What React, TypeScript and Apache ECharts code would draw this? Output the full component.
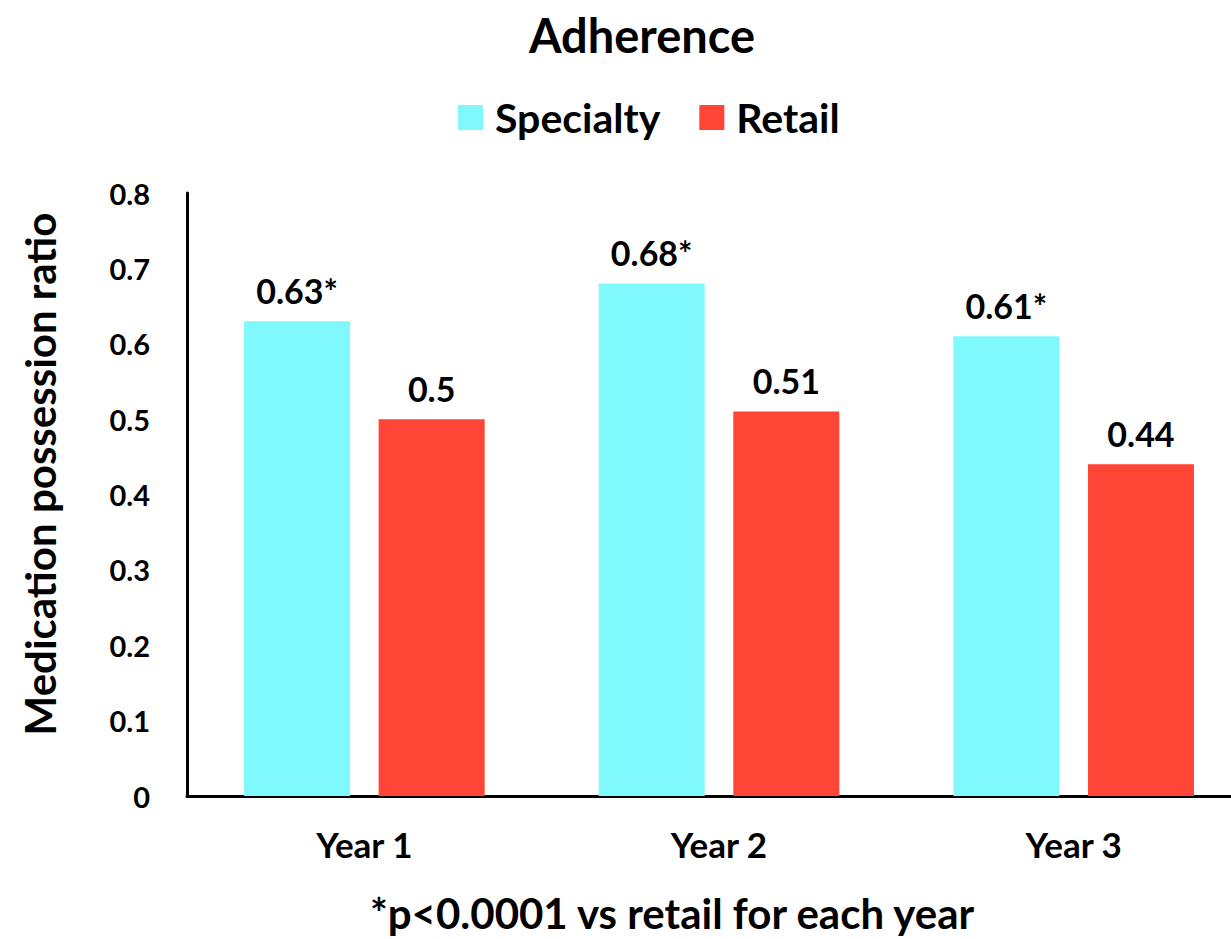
import React, { useEffect, useRef } from "react";
import * as echarts from "echarts";

// Medication possession ratio by year and pharmacy channel
const years = ["Year 1", "Year 2", "Year 3"];
const specialty = [0.63, 0.68, 0.61];
const retail = [0.5, 0.51, 0.44];
const specialtyLabels = ["0.63*", "0.68*", "0.61*"];
const retailLabels = ["0.5", "0.51", "0.44"];

const FONT = "Lato, 'Noto Sans', sans-serif";

export default function App() {
  const ref = useRef<HTMLDivElement>(null);

  useEffect(() => {
    if (!ref.current) return;
    const chart = echarts.init(ref.current, undefined, { renderer: "svg" });

    const barLabel = (labels: string[]) => ({
      show: true,
      position: "top",
      distance: 14,
      fontFamily: FONT,
      fontWeight: "bold",
      fontSize: 34,
      color: "#000",
      formatter: (p: any) => labels[p.dataIndex],
    });

    chart.setOption({
      animation: false,
      backgroundColor: "#ffffff",
      textStyle: { fontFamily: FONT, fontWeight: "bold", color: "#000" },
      legend: {
        left: 458,
        top: 97,
        padding: 0,
        itemWidth: 25,
        itemHeight: 25,
        itemGap: 39,
        icon: "rect",
        textStyle: {
          fontFamily: FONT,
          fontWeight: "bold",
          fontSize: 41,
          color: "#000",
          padding: [0, 0, 0, 7],
        },
        data: ["Specialty", "Retail"],
      },
      grid: {
        left: 187,
        right: 0,
        top: 193,
        bottom: 143,
        containLabel: false,
      },
      xAxis: {
        type: "category",
        data: years,
        axisLine: { lineStyle: { color: "#000", width: 3 } },
        axisTick: { show: false },
        axisLabel: {
          margin: 30,
          fontFamily: FONT,
          fontWeight: "bold",
          fontSize: 35,
          color: "#000",
        },
      },
      yAxis: {
        type: "value",
        min: 0,
        max: 0.8,
        interval: 0.1,
        axisLine: { show: true, lineStyle: { color: "#000", width: 3 } },
        axisTick: { show: false },
        splitLine: { show: false },
        axisLabel: {
          margin: 37,
          fontFamily: FONT,
          fontWeight: "bold",
          fontSize: 29,
          color: "#000",
          formatter: (v: number) => (v === 0 ? "0" : v.toFixed(1)),
        },
      },
      series: [
        {
          name: "Specialty",
          type: "bar",
          data: specialty,
          barWidth: 106,
          barGap: "27%",
          itemStyle: { color: "#7FF9FE" },
          label: barLabel(specialtyLabels),
        },
        {
          name: "Retail",
          type: "bar",
          data: retail,
          barWidth: 106,
          itemStyle: { color: "#FF4535" },
          label: barLabel(retailLabels),
        },
      ],
      graphic: [
        {
          type: "text",
          x: 642,
          y: 35,
          style: {
            text: "Adherence",
            font: `bold 47px ${FONT}`,
            fill: "#000",
            textAlign: "center",
            textVerticalAlign: "middle",
          },
        },
        {
          type: "text",
          x: 40,
          y: 474,
          rotation: Math.PI / 2,
          style: {
            text: "Medication possession ratio",
            font: `bold 42px ${FONT}`,
            fill: "#000",
            textAlign: "center",
            textVerticalAlign: "middle",
          },
        },
        {
          type: "text",
          x: 672,
          y: 913,
          style: {
            text: "*p<0.0001 vs retail for each year",
            font: `bold 42px ${FONT}`,
            fill: "#000",
            textAlign: "center",
            textVerticalAlign: "middle",
          },
        },
      ],
    });

    return () => chart.dispose();
  }, []);

  // The plot runs slightly past the right edge of the visible frame.
  return (
    <div
      style={{
        position: "absolute",
        left: 0,
        top: 0,
        width: 1231,
        height: 939,
        overflow: "hidden",
      }}
    >
      <div ref={ref} style={{ width: 1251, height: 939 }} />
    </div>
  );
}
